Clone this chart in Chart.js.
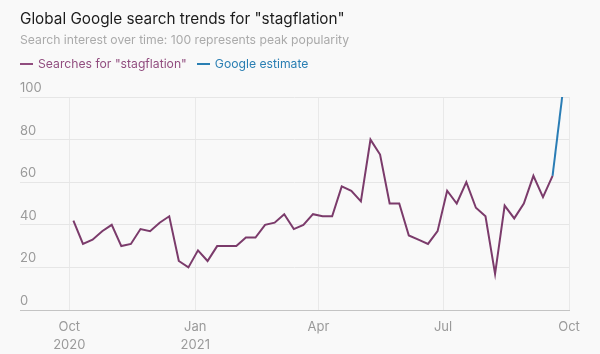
<!DOCTYPE html>
<html>
<head>
<meta charset="utf-8">
<script src="https://cdn.jsdelivr.net/npm/chart.js@4"></script>
<style>
  html, body { margin: 0; padding: 0; background: #f9f9f9; }
  #wrap { position: relative; width: 600px; height: 354px; font-family: Inter, "Noto Sans", sans-serif; }
  #chart { position: absolute; left: 0; top: 0; }
  .title { position: absolute; left: 20px; top: 9px; font-size: 15.3px; line-height: 20px; color: #1c1c1c; }
  .sub   { position: absolute; left: 20px; top: 32px; font-size: 12.2px; line-height: 16px; color: #aaaaaa; }
  .legend { position: absolute; left: 20px; top: 56px; font-size: 12.2px; line-height: 16px; display: flex; }
  .item { display: flex; align-items: center; margin-right: 10px; }
  .item i { display: inline-block; width: 13px; height: 2px; margin-right: 5px; }
</style>
</head>
<body>
<div id="wrap">
  <canvas id="chart" width="600" height="354"></canvas>
  <div class="title">Global Google search trends for "stagflation"</div>
  <div class="sub">Search interest over time: 100 represents peak popularity</div>
  <div class="legend">
    <span class="item" style="color:#914d7f"><i style="background:#914d7f"></i>Searches for "stagflation"</span>
    <span class="item" style="color:#2a7fb3"><i style="background:#2a7fb3"></i>Google estimate</span>
  </div>
</div>
<script>
(() => {
  /* ---------- Data ---------- */
  const firstWeek = "2020-10-04";   // weekly, Sundays
  const searches = [
    42, 31, 33, 37, 40, 30, 31, 38, 37, 41, 44, 23, 20, 28, 23,
    30, 30, 30, 34, 34, 40, 41, 45, 38, 40, 45, 44, 44,
    58, 56, 51, 80, 73, 50, 50, 35, 33, 31, 37, 56,
    50, 60, 48, 44, 17, 49, 43, 50, 63, 53, 63
  ];
  const estimate = [63, 100];        // last two weeks
  const tickDates  = ["2020-10-01", "2021-01-01", "2021-04-01", "2021-07-01", "2021-10-01"];
  const tickLabels = [["Oct", "2020"], ["Jan", "2021"], "Apr", "Jul", "Oct"];
  const yTicks = [0, 20, 40, 60, 80, 100];

  /* ---------- Helpers ---------- */
  const origin = Date.UTC(2020, 9, 1);
  const dayOf = s => (Date.parse(s + "T00:00:00Z") - origin) / 864e5;
  const start = dayOf(firstWeek);
  const weekX = i => start + 7 * i;

  const nWeeks = searches.length + estimate.length - 1;
  const searchData = searches.map((v, i) => ({ x: weekX(i), y: v }));
  const estData = estimate.map((v, i) => ({ x: weekX(nWeeks - estimate.length + i), y: v }));
  const tickDays = tickDates.map(dayOf);

  new Chart(document.getElementById("chart"), {
    type: "line",
    data: {
      datasets: [
        { data: searchData, borderColor: "#7b3b6b", borderWidth: 2, pointRadius: 0, tension: 0 },
        { data: estData, borderColor: "#2a7db5", borderWidth: 2, pointRadius: 0, tension: 0 }
      ]
    },
    options: {
      responsive: false,
      animation: false,
      layout: { padding: { top: 97, left: 20, right: 31, bottom: 0 } },
      plugins: { legend: { display: false }, tooltip: { enabled: false } },
      scales: {
        x: {
          type: "linear",
          min: -36,
          max: tickDays[tickDays.length - 1],
          afterBuildTicks: s => { s.ticks = tickDays.map(v => ({ value: v })); },
          afterFit: s => { s.height = 44; },
          grid: { color: "#e9e9e9", drawTicks: false },
          border: { display: true, color: "#c4c4c4", width: 1 },
          ticks: {
            padding: 8,
            color: "#9a9a9a",
            font: { family: "Inter", size: 13, lineHeight: 1.4 },
            maxRotation: 0,
            autoSkip: false,
            callback: v => tickLabels[tickDays.indexOf(v)]
          }
        },
        y: {
          min: 0,
          max: 100,
          afterBuildTicks: s => { s.ticks = yTicks.map(v => ({ value: v })); },
          grid: { color: "#e6e6e6", drawTicks: false },
          border: { display: false },
          ticks: {
            mirror: true,
            padding: 0,
            labelOffset: -9,
            color: "#9a9a9a",
            font: { family: "Inter", size: 13 }
          }
        }
      }
    }
  });
})();
</script>
</body>
</html>
